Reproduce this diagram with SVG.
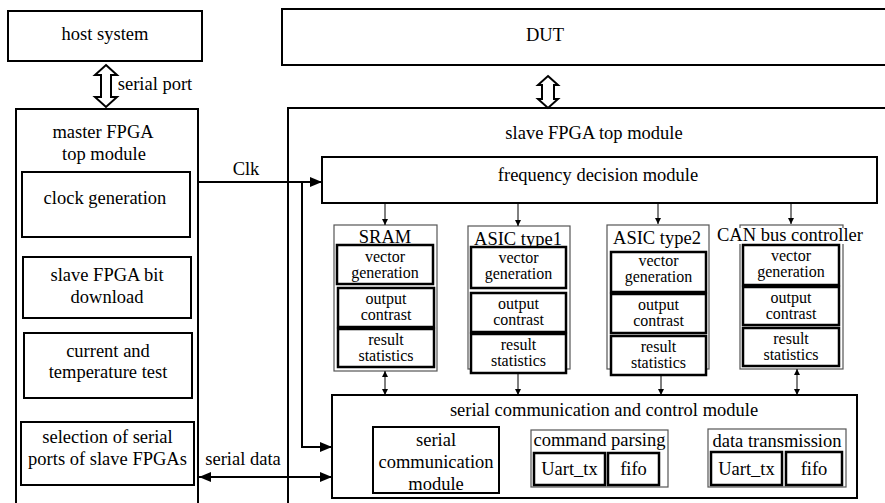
<svg xmlns="http://www.w3.org/2000/svg" width="885" height="503" viewBox="0 0 885 503">
<style>
  .box{fill:#fff;stroke:#000;stroke-width:2}
  .open{fill:none;stroke:#000;stroke-width:2}
  .outer{fill:#fff;stroke:#555;stroke-width:1.2}
  .inner{fill:#fff;stroke:#000;stroke-width:2.5}
  text{font-family:Liberation Serif, Tinos, Times New Roman, DejaVu Serif, serif;fill:#000;text-anchor:middle}
  .t{font-size:18.5px}
  .s{font-size:16px}
  .thin{fill:none;stroke:#000;stroke-width:1}
  .thick{fill:none;stroke:#000;stroke-width:2}
  .hollow{fill:#fff;stroke:#000;stroke-width:2;stroke-linejoin:miter}
</style>
<defs>
  <marker id="ah" viewBox="0 0 6 6" refX="6" refY="3" markerWidth="6" markerHeight="6" markerUnits="userSpaceOnUse" orient="auto-start-reverse">
    <path d="M0,0 L6,3 L0,6 z" fill="#000"/>
  </marker>
  <marker id="AH" viewBox="0 0 12 10" refX="12" refY="5" markerWidth="12" markerHeight="10" markerUnits="userSpaceOnUse" orient="auto-start-reverse">
    <path d="M0,0 L12,5 L0,10 z" fill="#000"/>
  </marker>
</defs>

<g id="host">
  <rect class="box" x="8" y="11" width="194" height="50"/>
  <text class="t" x="105" y="40">host system</text>
</g>

<g id="dut">
  <rect class="box" x="282" y="9" width="612" height="56"/>
  <text class="t" x="545" y="41">DUT</text>
</g>

<g id="master">
  <path class="open" d="M16,505 V109 H198 V505"/>
  <text class="t" x="103" y="138">master FPGA</text>
  <text class="t" x="104" y="160">top module</text>
</g>

<g id="clockgen">
  <rect class="box" x="22" y="172" width="168" height="65"/>
  <text class="t" x="105" y="204">clock generation</text>
</g>

<g id="bitdownload">
  <rect class="box" x="23" y="257" width="168" height="61"/>
  <text class="t" x="107" y="281">slave FPGA bit</text>
  <text class="t" x="107" y="303">download</text>
</g>

<g id="currenttest">
  <rect class="box" x="24" y="333" width="168" height="65"/>
  <text class="t" x="108" y="357">current and</text>
  <text class="t" x="108" y="378">temperature test</text>
</g>

<g id="selection">
  <rect class="box" x="21" y="422" width="173" height="63"/>
  <text class="t" x="107.5" y="443">selection of serial</text>
  <text class="t" x="107.5" y="465">ports of slave FPGAs</text>
</g>

<g id="slave">
  <path class="open" d="M288,505 V108 H894"/>
  <text class="t" x="594" y="139">slave FPGA top module</text>
</g>

<g id="freq">
  <rect class="box" x="322" y="157" width="555" height="46"/>
  <text class="t" x="598" y="181">frequency decision module</text>
</g>

<g id="sram">
  <rect class="outer" x="334" y="225" width="103" height="146"/>
  <text class="t" x="385" y="243">SRAM</text>
  <rect class="inner" x="337" y="245" width="96" height="39"/>
  <text class="s" x="385" y="262">vector</text>
  <text class="s" x="385" y="278">generation</text>
  <rect class="inner" x="338" y="288" width="96" height="39"/>
  <text class="s" x="386" y="304">output</text>
  <text class="s" x="386" y="320">contrast</text>
  <rect class="inner" x="338" y="329" width="96" height="38"/>
  <text class="s" x="386" y="345">result</text>
  <text class="s" x="386" y="361">statistics</text>
</g>

<g id="asic1">
  <rect class="outer" x="468" y="226" width="102" height="143"/>
  <text class="t" x="518" y="245">ASIC type1</text>
  <rect class="inner" x="471" y="247" width="95" height="41"/>
  <text class="s" x="518.5" y="263">vector</text>
  <text class="s" x="518.5" y="279">generation</text>
  <rect class="inner" x="471" y="293" width="95" height="39"/>
  <text class="s" x="518.5" y="309">output</text>
  <text class="s" x="518.5" y="325">contrast</text>
  <rect class="inner" x="471" y="334" width="95" height="39"/>
  <text class="s" x="518.5" y="350">result</text>
  <text class="s" x="518.5" y="366">statistics</text>
</g>

<g id="asic2">
  <rect class="outer" x="607" y="225" width="102" height="144"/>
  <text class="t" x="657" y="244">ASIC type2</text>
  <rect class="inner" x="611" y="252" width="95" height="40"/>
  <text class="s" x="658.5" y="266">vector</text>
  <text class="s" x="658.5" y="282">generation</text>
  <rect class="inner" x="611" y="294" width="95" height="39"/>
  <text class="s" x="658.5" y="310">output</text>
  <text class="s" x="658.5" y="326">contrast</text>
  <rect class="inner" x="611" y="336" width="95" height="39"/>
  <text class="s" x="658.5" y="352">result</text>
  <text class="s" x="658.5" y="368">statistics</text>
</g>

<g id="can">
  <rect class="outer" x="740" y="225" width="103" height="144"/>
  <rect x="718" y="228" width="146" height="16" fill="#fff"/>
  <text class="t" x="790" y="241">CAN bus controller</text>
  <rect class="inner" x="743" y="245" width="96" height="40"/>
  <text class="s" x="791" y="261">vector</text>
  <text class="s" x="791" y="277">generation</text>
  <rect class="inner" x="743" y="287" width="96" height="38"/>
  <text class="s" x="791" y="303">output</text>
  <text class="s" x="791" y="319">contrast</text>
  <rect class="inner" x="743" y="328" width="96" height="38"/>
  <text class="s" x="791" y="344">result</text>
  <text class="s" x="791" y="360">statistics</text>
</g>

<g id="serialctrl">
  <rect class="box" x="332" y="395" width="525" height="103"/>
  <text class="t" x="604" y="416">serial communication and control module</text>
</g>

<g id="serialcomm">
  <rect class="box" x="373" y="427" width="126" height="66"/>
  <text class="t" x="436" y="446">serial</text>
  <text class="t" x="436" y="468">communication</text>
  <text class="t" x="436" y="490">module</text>
</g>

<g id="cmdparsing">
  <rect class="outer" x="531" y="430" width="137" height="57"/>
  <text class="t" x="599.5" y="446">command parsing</text>
  <rect class="inner" x="534" y="453" width="71" height="32"/>
  <text class="t" x="569.5" y="475">Uart_tx</text>
  <rect class="inner" x="608" y="453" width="51" height="32"/>
  <text class="t" x="633.5" y="475">fifo</text>
</g>

<g id="datatrans">
  <rect class="outer" x="708" y="429" width="138" height="58"/>
  <text class="t" x="777" y="447">data transmission</text>
  <rect class="inner" x="711" y="452" width="71" height="33"/>
  <text class="t" x="746.5" y="475">Uart_tx</text>
  <rect class="inner" x="786" y="452" width="56" height="33"/>
  <text class="t" x="814" y="475">fifo</text>
</g>

<g id="connectors">
  <path class="hollow" d="M106,65 L117,75 L111,75 L111,97 L117,97 L106,107 L95,97 L101,97 L101,75 L95,75 Z"/>
  <text class="t" x="155" y="90">serial port</text>
  <path class="hollow" d="M548,76 L558,85 L554,85 L554,99 L558,99 L548,108 L538,99 L542,99 L542,85 L538,85 Z"/>
  <line class="thick" x1="198" y1="182" x2="322" y2="182" marker-end="url(#AH)"/>
  <text class="t" x="246" y="175">Clk</text>
  <polyline class="thick" points="302,182 302,447 332,447" marker-end="url(#AH)"/>
  <line class="thick" x1="199" y1="477" x2="332" y2="477" marker-start="url(#AH)" marker-end="url(#AH)"/>
  <text class="t" x="243" y="465">serial data</text>
  <line class="thin" x1="385" y1="203" x2="385" y2="225" marker-end="url(#ah)"/>
  <line class="thin" x1="518" y1="203" x2="518" y2="226" marker-end="url(#ah)"/>
  <line class="thin" x1="658" y1="203" x2="658" y2="224" marker-end="url(#ah)"/>
  <line class="thin" x1="791" y1="203" x2="791" y2="224" marker-end="url(#ah)"/>
  <line class="thin" x1="385" y1="371" x2="385" y2="395" marker-start="url(#ah)" marker-end="url(#ah)"/>
  <line class="thin" x1="518" y1="373" x2="518" y2="395" marker-end="url(#ah)"/>
  <line class="thin" x1="661" y1="375" x2="661" y2="395" marker-end="url(#ah)"/>
  <line class="thin" x1="797" y1="369" x2="797" y2="395" marker-start="url(#ah)" marker-end="url(#ah)"/>
</g>
</svg>
